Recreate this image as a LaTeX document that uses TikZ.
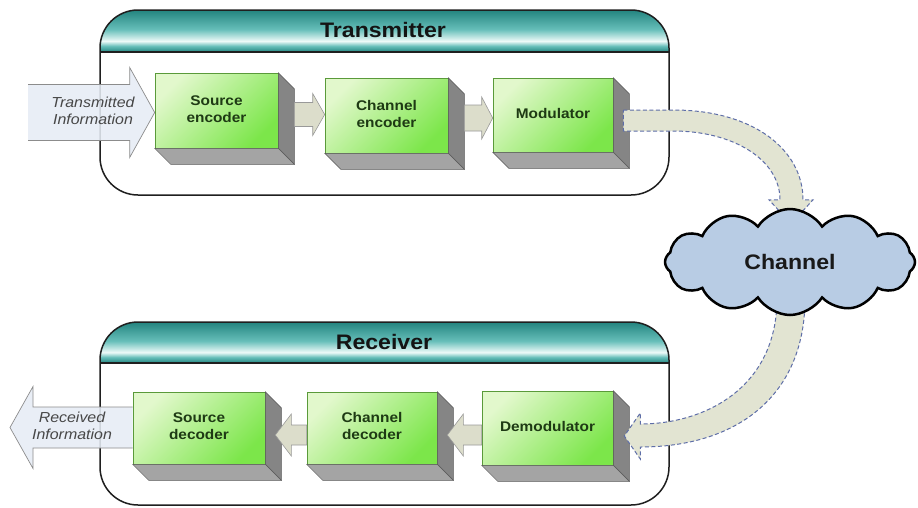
\documentclass[tikz,border=0pt]{standalone}
\usepackage{fontspec}
\setmainfont{Liberation Sans}
\usetikzlibrary{calc,shapes.symbols}
\definecolor{hdrA}{HTML}{23847F}
\definecolor{hdrB}{HTML}{66BEB9}
\definecolor{hdrW}{HTML}{EEFAF8}
\definecolor{gL}{HTML}{E2F8CC}
\definecolor{gR}{HTML}{7CE64A}
\definecolor{gBorder}{HTML}{5A9A3A}
\definecolor{gText}{HTML}{1E3A14}
\definecolor{sideG}{HTML}{858585}
\definecolor{botG}{HTML}{A4A4A4}
\definecolor{inFill}{HTML}{E6ECF5}
\definecolor{smallFill}{HTML}{DCDDCB}
\definecolor{bandFill}{HTML}{E2E4D2}
\definecolor{bandLine}{HTML}{5E6EA8}
\definecolor{cloudFill}{HTML}{B8CCE4}
\pgfdeclareverticalshading{hdrshade}{100bp}{color(0bp)=(hdrA); color(25bp)=(hdrA); color(32bp)=(hdrB); color(38bp)=(hdrW); color(52bp)=(hdrB); color(75bp)=(hdrA); color(100bp)=(hdrA)}
\newcommand\myst[1]{\scalebox{1.1}[1]{\begin{tabular}{@{}c@{}}#1\end{tabular}}}
\tikzset{
  gbox/.style={draw=gBorder, line width=0.6pt, top color=gL, bottom color=gR, shading angle=45,
    inner sep=0pt, font=\bfseries\fontsize{14}{17}\selectfont, text=gText, align=center},
  sideface/.style={fill=sideG, draw=black!65, line width=0.5pt},
  botface/.style={fill=botG, draw=black!65, line width=0.5pt},
  titlelbl/.style={font=\bfseries\fontsize{21}{24}\selectfont, text=black!92},
  inlabel/.style={font=\itshape\fontsize{14.5}{17}\selectfont, text=black!72},
  smallarrow/.style={fill=smallFill, draw=black!40, line width=0.6pt},
  bigarrow/.style={fill=inFill, fill opacity=0.88},
  bigarrowline/.style={draw=black!45, line width=0.7pt},
  band/.style={fill=bandFill, draw=bandLine, line width=1pt, dash pattern=on 4pt off 2.5pt},
  contline/.style={draw=black!88, line width=1.5pt, rounded corners=38pt},
  cloudshape/.style={cloud, cloud puffs=12, cloud puff arc=115, aspect=2.3,
    minimum width=250pt, minimum height=106pt, inner sep=0pt},
}
\begin{document}
\begin{tikzpicture}[x=1pt, y=-1pt]
\fill[white] (0,0) rectangle (918,507);
\useasboundingbox (0,0) rectangle (918,507);

% ---------- containers ----------
\begin{scope}
  \path[clip, rounded corners=38pt] (100,10) rectangle (669,195);
  \fill[white] (100,10) rectangle (669,195);
  \shade[shading=hdrshade] (100,10) rectangle (669,52);
\end{scope}
\draw[black!88, line width=1.3pt] (100,52) -- (669,52);
\draw[contline] (100,10) rectangle (669,195);
\node[titlelbl] (ttx) at (383,30) {\scalebox{1.1}[1]{Transmitter}};

\begin{scope}
  \path[clip, rounded corners=38pt] (100,322) rectangle (669,505);
  \fill[white] (100,322) rectangle (669,505);
  \shade[shading=hdrshade] (100,322) rectangle (669,363);
\end{scope}
\draw[black!88, line width=1.3pt] (100,363) -- (669,363);
\draw[contline] (100,322) rectangle (669,505);
\node[titlelbl] (trx) at (384,342) {\scalebox{1.1}[1]{Receiver}};

% ---------- boxes ----------
\node[gbox, minimum width=123pt, minimum height=75pt] (se)  at (216.5,110.5) {\myst{Source\\encoder}};
\node[gbox, minimum width=123pt, minimum height=75pt] (ce)  at (386.5,115.5) {\myst{Channel\\encoder}};
\node[gbox, minimum width=120pt, minimum height=74pt] (mod) at (553,115)     {\myst{Modulator}};
\node[gbox, minimum width=132pt, minimum height=72pt] (sd)  at (199,428)     {\myst{Source\\decoder}};
\node[gbox, minimum width=130pt, minimum height=72pt] (cd)  at (372,428)     {\myst{Channel\\decoder}};
\node[gbox, minimum width=131pt, minimum height=74pt] (dm)  at (547.5,428)   {\myst{Demodulator}};

\foreach \n in {se,ce,mod,sd,cd,dm}{
  \filldraw[sideface] (\n.north east) -- ++(16,16) -- ($(\n.south east)+(16,16)$) -- (\n.south east) -- cycle;
  \filldraw[botface] (\n.south west) -- ++(16,16) -- ($(\n.south east)+(16,16)$) -- (\n.south east) -- cycle;
}

% ---------- input / output arrows ----------
\coordinate (tin) at (28,113);
\fill[bigarrow] let \p1=(tin), \p2=($(se.west)+(0,2)$) in
  (\x1,\y2+28pt) -- (\x2-25pt,\y2+28pt) -- (\x2-25pt,\y2+45pt) -- (\p2) --
  (\x2-25pt,\y2-45pt) -- (\x2-25pt,\y2-28pt) -- (\x1,\y2-28pt) -- cycle;
\draw[bigarrowline] let \p1=(tin), \p2=($(se.west)+(0,2)$) in
  (\x1,\y2+28pt) -- (\x2-25pt,\y2+28pt) -- (\x2-25pt,\y2+45pt) -- (\p2) --
  (\x2-25pt,\y2-45pt) -- (\x2-25pt,\y2-28pt) -- (\x1,\y2-28pt);
\node[inlabel] (tinl) at (93,113) {\myst{Transmitted\\Information}};

\coordinate (rout) at (10,427.5);
\fill[bigarrow] let \p1=(rout), \p2=(sd.west) in
  (\x2,\y1+20.5pt) -- (\x1+23pt,\y1+20.5pt) -- (\x1+23pt,\y1+41pt) -- (\p1) --
  (\x1+23pt,\y1-41pt) -- (\x1+23pt,\y1-20.5pt) -- (\x2,\y1-20.5pt) -- cycle;
\draw[bigarrowline] let \p1=(rout), \p2=(sd.west) in
  (\x2,\y1+20.5pt) -- (\x1+23pt,\y1+20.5pt) -- (\x1+23pt,\y1+41pt) -- (\p1) --
  (\x1+23pt,\y1-41pt) -- (\x1+23pt,\y1-20.5pt) -- (\x2,\y1-20.5pt);
\node[inlabel] (routl) at (72,428) {\myst{Received\\Information}};

% ---------- small block arrows ----------
\filldraw[smallarrow] let \p1=($(se.east)+(16,0)$), \p2=($(ce.west)+(0,-1)$) in
  (\x1,\y2+12pt) -- (\x2-12pt,\y2+12pt) -- (\x2-12pt,\y2+21pt) -- (\p2) --
  (\x2-12pt,\y2-21pt) -- (\x2-12pt,\y2-12pt) -- (\x1,\y2-12pt) -- cycle;
\filldraw[smallarrow] let \p1=($(ce.east)+(16,0)$), \p2=($(mod.west)+(0,3)$) in
  (\x1,\y2+13pt) -- (\x2-11pt,\y2+13pt) -- (\x2-11pt,\y2+21pt) -- (\p2) --
  (\x2-11pt,\y2-21pt) -- (\x2-11pt,\y2-13pt) -- (\x1,\y2-13pt) -- cycle;
\filldraw[smallarrow] let \p1=($(cd.west)+(0,7)$), \p2=($(sd.east)+(10,7)$) in
  (\x1,\y1+10pt) -- (\x2+16pt,\y1+10pt) -- (\x2+16pt,\y1+21pt) -- (\x2,\y1) --
  (\x2+16pt,\y1-21pt) -- (\x2+16pt,\y1-10pt) -- (\x1,\y1-10pt) -- cycle;
\filldraw[smallarrow] let \p1=($(dm.west)+(0,7)$), \p2=($(cd.east)+(10,7)$) in
  (\x1,\y1+10pt) -- (\x2+16pt,\y1+10pt) -- (\x2+16pt,\y1+21pt) -- (\x2,\y1) --
  (\x2+16pt,\y1-21pt) -- (\x2+16pt,\y1-10pt) -- (\x1,\y1-10pt) -- cycle;

% ---------- cloud (anchor for the bands) ----------
\node[cloudshape, draw=none] (ch) at (790,262) {};

% ---------- curved band arrows ----------
\filldraw[band] let \p1=($(mod.east)+(10,5)$), \p2=($(ch.north)+(1,-9)$) in
  (\x1,\y1+10pt) -- (\x1+50pt,\y1+10pt)
  .. controls (\x1+130pt,\y1+10pt) and (\x2+12pt,\y2+50pt) .. (\x2+12pt,\y2)
  -- (\x2+22pt,\y2) -- (\x2,\y2-24pt) -- (\x2-22pt,\y2) -- (\x2-11pt,\y2)
  .. controls (\x2-11pt,\y2+40pt) and (\x1+110pt,\y1-11pt) .. (\x1+50pt,\y1-11pt)
  -- (\x1,\y1-11pt) -- cycle;
\filldraw[band] let \p1=($(ch.south)+(1,-17)$), \p2=($(dm.east)+(11,8)$) in
  (\x1-14pt,\y1) .. controls (\x1-14pt,\y1-90pt) and (\x2+80pt,\y2+12pt) .. (\x2+16pt,\y2+12pt)
  -- (\x2+16pt,\y2+23pt) -- (\p2) -- (\x2+16pt,\y2-23pt) -- (\x2+16pt,\y2-11pt)
  .. controls (\x2+110pt,\y2-11pt) and (\x1+14pt,\y1-100pt) .. (\x1+14pt,\y1) -- cycle;

\node[cloudshape, draw=black, line width=2.5pt, fill=cloudFill,
      font=\bfseries\fontsize{21}{24}\selectfont, text=black!90] (chv) at (ch.center) {\scalebox{1.1}[1]{Channel}};
\end{tikzpicture}
\end{document}
